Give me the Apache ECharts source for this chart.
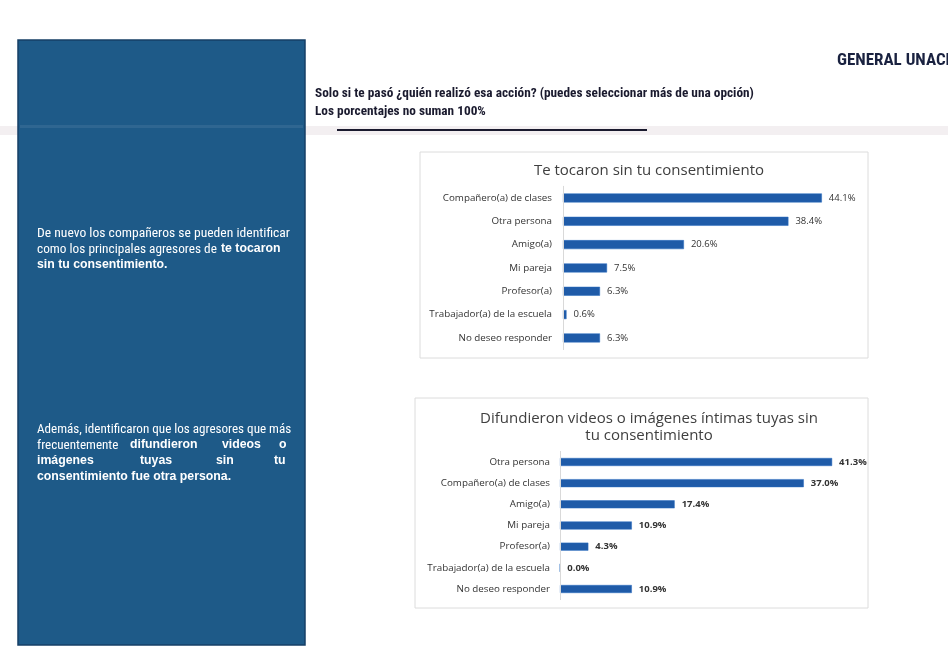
<!DOCTYPE html>
<html><head><meta charset="utf-8">
<script src="https://cdn.jsdelivr.net/npm/echarts@6/dist/echarts.min.js"></script>
<style>html,body{margin:0;padding:0;background:#fff}#c{width:948px;height:661px}</style>
</head><body><div id="c"></div>
<script>
const cats1 = ['Compañero(a) de clases','Otra persona','Amigo(a)','Mi pareja','Profesor(a)','Trabajador(a) de la escuela','No deseo responder'];
const vals1 = [44.1, 38.4, 20.6, 7.5, 6.3, 0.6, 6.3];
const cats2 = ['Otra persona','Compañero(a) de clases','Amigo(a)','Mi pareja','Profesor(a)','Trabajador(a) de la escuela','No deseo responder'];
const vals2 = [41.3, 37.0, 17.4, 10.9, 4.3, 0.0, 10.9];
const title1 = 'Te tocaron sin tu consentimiento';
const title2 = 'Difundieron videos o imágenes íntimas tuyas sin\ntu consentimiento';
const question = 'Solo si te pasó ¿quién realizó esa acción? (puedes seleccionar más de una opción)';
const note = 'Los porcentajes no suman 100%';
const brand = 'GENERAL UNACH';

const NARROW = '"Liberation Sans Narrow","Roboto Condensed","DejaVu Sans Condensed",sans-serif';
const WIDE = '"Liberation Sans",Arial,sans-serif';
const CHARTF = '"Open Sans","Noto Sans",sans-serif';

function seg(text, x, y, bold, narrow, size){
  return {type:'text', left:x, top:y, z:20, style:{text:text, fill:'#ffffff',
    font:(bold?'bold ':'')+(size||12)+'px '+(narrow?NARROW:WIDE), textVerticalAlign:'middle'}};
}
const panelText = [
  seg('De nuevo los compañeros se pueden identificar', 37, 227, false, true, 13.6),
  seg('como los principales agresores de', 37, 243, false, true, 13.3),
  seg('te tocaron', 221, 243, true, false, 12.3),
  seg('sin tu consentimiento.', 37, 259, true, false, 12.3),
  seg('Además, identificaron que los agresores que más', 37, 423, false, true, 13.1),
  seg('frecuentemente', 37, 439, false, true, 13.1),
  seg('difundieron', 130, 439, true, false, 12.3),
  seg('videos', 222, 439, true, false, 12.3),
  seg('o', 279, 439, true, false, 12.3),
  seg('imágenes', 37, 455, true, false, 12.3),
  seg('tuyas', 140, 455, true, false, 12.3),
  seg('sin', 216, 455, true, false, 12.3),
  seg('tu', 274, 455, true, false, 12.3),
  seg('consentimiento fue otra persona.', 37, 471, true, false, 12.3)
];

function barSeries(vals, gi, bold){
  return {type:'bar', xAxisIndex:gi, yAxisIndex:gi, data:vals, barWidth: gi===0?9:8,
    itemStyle:{color:'#1f5ba8', borderColor:'#2a6cc0', borderWidth:0.5},
    label:{show:true, position:'right', distance:7, formatter:p=>p.value.toFixed(1)+'%',
      color:'#333', fontSize:9.5, fontWeight:bold?'bold':'normal', fontFamily:CHARTF}};
}
function catAxis(cats, gi){
  return {type:'category', gridIndex:gi, data:cats, inverse:true, z:5,
    axisLine:{show:true, lineStyle:{color:'#d9d9d9'}}, axisTick:{show:false},
    axisLabel:{color:'#333', fontSize:9.8, fontFamily:CHARTF, margin:gi===0?11:10}};
}
function valAxis(max, gi){
  return {type:'value', gridIndex:gi, min:0, max:max, show:false, splitLine:{show:false}};
}

const chart = echarts.init(document.getElementById('c'));
chart.setOption({
  animation:false,
  backgroundColor:'#ffffff',
  title:[
    {text:title1, left:644, top:158, textAlign:'center',
      textStyle:{fontSize:15, fontWeight:'normal', color:'#404040', fontFamily:CHARTF}},
    {text:title2, left:644, top:405, textAlign:'center',
      textStyle:{fontSize:15, fontWeight:'normal', color:'#404040', fontFamily:CHARTF, lineHeight:17}}
  ],
  grid:[
    {left:563, top:186.3, width:293.5, height:163.3, containLabel:false},
    {left:560, top:451.4, width:296.5, height:148.2, containLabel:false}
  ],
  xAxis:[valAxis(50,0), valAxis(45,1)],
  yAxis:[catAxis(cats1,0), catAxis(cats2,1)],
  series:[barSeries(vals1,0,false), barSeries(vals2,1,true)],
  graphic:[
    {type:'rect', shape:{x:0,y:126,width:948,height:9}, style:{fill:'#f3eff1'}, z:0},
    {type:'rect', shape:{x:18,y:40,width:287,height:605}, style:{fill:'#1e5a88', stroke:'#163f66', lineWidth:1.5}, z:5},
    {type:'rect', shape:{x:20,y:125,width:283,height:3}, style:{fill:'#3f7199', opacity:0.5}, z:6},
    {type:'rect', shape:{x:420,y:152,width:448,height:206}, style:{fill:'rgba(255,255,255,0)', stroke:'#dcdcdc', lineWidth:1}, z:1},
    {type:'rect', shape:{x:415,y:398,width:453,height:210}, style:{fill:'rgba(255,255,255,0)', stroke:'#dcdcdc', lineWidth:1}, z:1},
    {type:'text', left:837, top:52, z:20, style:{text:brand, fill:'#1a2240', font:'bold 17px '+NARROW}},
    {type:'text', left:315, top:87, z:20, style:{text:question, fill:'#1a1a2e', font:'bold 13.3px '+NARROW}},
    {type:'text', left:315, top:105, z:20, style:{text:note, fill:'#1a1a2e', font:'bold 13.3px '+NARROW}},
    {type:'rect', shape:{x:337,y:129,width:310,height:2}, style:{fill:'#1a1a2e'}, z:20}
  ].concat(panelText)
});
</script></body></html>
